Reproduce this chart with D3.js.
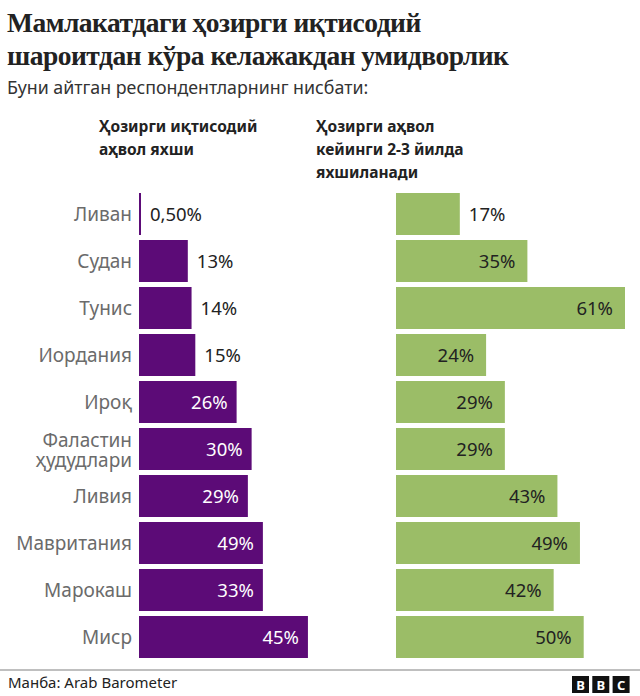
<!DOCTYPE html>
<html><head><meta charset="utf-8">
<script src="https://cdn.jsdelivr.net/npm/d3@7"></script>
<style>body{margin:0;background:#fff}</style>
</head><body>
<svg id="c" width="640" height="696"></svg>
<script>
const countries = ["Ливан","Судан","Тунис","Иордания","Ироқ","Фаластин ҳудудлари","Ливия","Мавритания","Марокаш","Миср"];
const currentGood = [0.5,13,14,15,26,30,29,33,33,45];
const currentGoodLabels = ["0,50%","13%","14%","15%","26%","30%","29%","49%","33%","45%"];
const willImprove = [17,35,61,24,29,29,43,49,42,50];
const willImproveLabels = ["17%","35%","61%","24%","29%","29%","43%","49%","42%","50%"];
const titleLines = ["Мамлакатдаги ҳозирги иқтисодий","шароитдан кўра келажакдан умидворлик"];
const subtitle = "Буни айтган респондентларнинг нисбати:";
const header1 = ["Ҳозирги иқтисодий","аҳвол яхши"];
const header2 = ["Ҳозирги аҳвол","кейинги 2-3 йилда","яхшиланади"];
const source = "Манба: Arab Barometer";

const svg = d3.select("#c");
const sans = "'Noto Sans', 'Open Sans', sans-serif";
const purple = "#5c0b77", green = "#9bbd67";

svg.append("g").selectAll("text").data(titleLines).join("text")
  .attr("x",7).attr("y",(d,i)=>32+i*33)
  .attr("font-family","'Liberation Serif', serif").attr("font-weight","bold")
  .attr("font-size",27.5).attr("letter-spacing",-0.5).attr("fill","#222").text(d=>d);
svg.append("text").attr("x",7).attr("y",94).attr("font-family",sans)
  .attr("font-size",17.8).attr("fill","#333").text(subtitle);

function header(lines,x){
  svg.append("g").selectAll("text").data(lines).join("text")
    .attr("x",x).attr("y",(d,i)=>132+i*23).attr("font-family",sans)
    .attr("font-weight","bold").attr("font-size",15.5).attr("fill","#222").text(d=>d);
}
header(header1,99); header(header2,316);

const y = d3.scaleBand().domain(countries).range([190.5,660.5])
  .paddingInner(5/47).paddingOuter(2.5/47);
const xL = d3.scaleLinear().domain([0,100]).range([139,139+375.4]);
const xR = d3.scaleLinear().domain([0,100]).range([396,396+375.4]);

// category labels
const cl = svg.append("g").selectAll("text").data(countries).join("text")
  .attr("x",132).attr("text-anchor","end").attr("font-family",sans)
  .attr("font-size",19).attr("fill","#6b6b6b");
cl.each(function(d){
  const parts = d.split(" ");
  const t = d3.select(this);
  const cy = y(d)+y.bandwidth()/2;
  if(parts.length===1){ t.append("tspan").attr("x",132).attr("y",cy+6.5).text(d); }
  else parts.forEach((p,i)=>t.append("tspan").attr("x",132).attr("y",cy-2+i*20).text(p));
});

function bars(vals,labels,x,color,pad){
  const g = svg.append("g");
  g.selectAll("rect").data(vals).join("rect")
    .attr("x",x(0)).attr("y",(d,i)=>y(countries[i]))
    .attr("width",d=>Math.max(2,x(d)-x(0))).attr("height",y.bandwidth()).attr("fill",color);
  g.selectAll("text").data(vals).join("text")
    .attr("y",(d,i)=>y(countries[i])+y.bandwidth()/2+7)
    .attr("x",d=> d<20 ? x(d)+9 : x(d)-pad)
    .attr("text-anchor",d=> d<20?"start":"end")
    .attr("font-family",sans).attr("font-size",18.5)
    .attr("fill",d=> d<20 ? "#222" : (color===purple?"#fff":"#222"))
    .text((d,i)=>labels[i]);
}
bars(currentGood,currentGoodLabels,xL,purple,9);
bars(willImprove,willImproveLabels,xR,green,12);

svg.append("line").attr("x1",0).attr("x2",640).attr("y1",670).attr("y2",670)
  .attr("stroke","#aaa").attr("stroke-width",1.5);
svg.append("text").attr("x",8).attr("y",688).attr("font-family",sans)
  .attr("font-size",15).attr("fill","#222").text(source);
const logo = svg.append("g");
["B","B","C"].forEach((l,i)=>{
  logo.append("rect").attr("x",572+i*20.3).attr("y",676).attr("width",17).attr("height",17).attr("fill","#111");
  logo.append("text").attr("x",572+i*20.3+8.5).attr("y",690).attr("text-anchor","middle")
    .attr("font-family",sans).attr("font-weight","bold").attr("font-size",13).attr("fill","#fff").text(l);
});
</script>
</body></html>
